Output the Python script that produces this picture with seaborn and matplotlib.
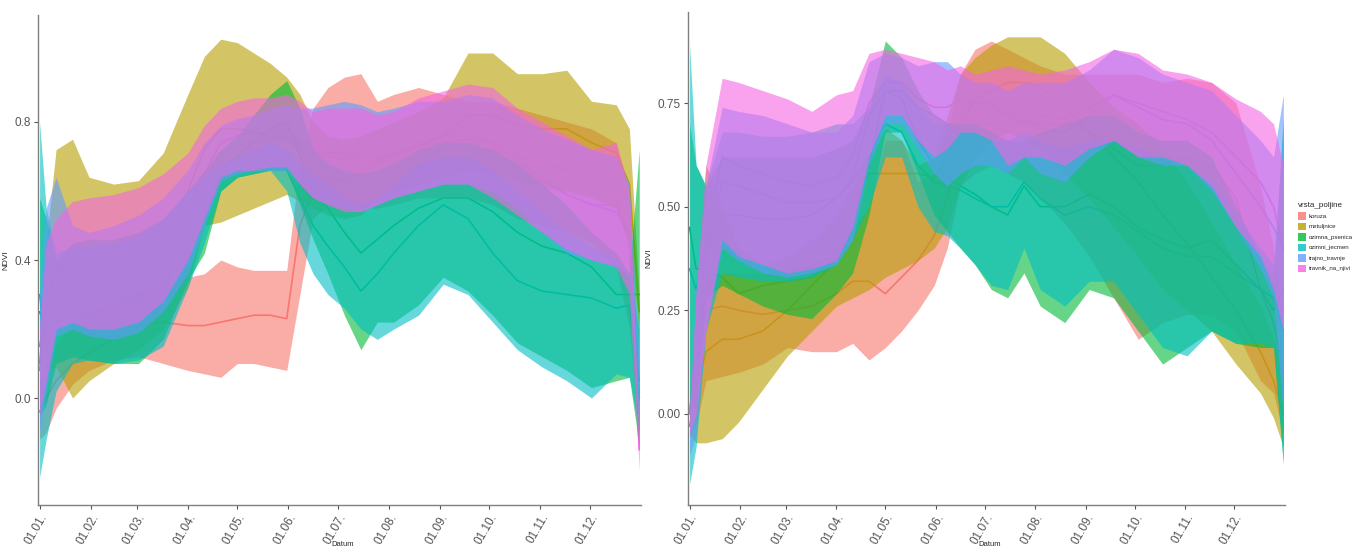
import numpy as np
import pandas as pd
import matplotlib
matplotlib.use("Agg")
import matplotlib.pyplot as plt
import seaborn as sns
from matplotlib.patches import Patch

sns.set_theme(style="white")
plt.rcParams['font.family'] = ['Liberation Sans', 'DejaVu Sans']

# day of year for every sample
days = [0, 4, 10, 20, 30, 45, 60, 75, 90, 100, 110, 120, 130, 140, 150, 158, 166,
        175, 185, 195, 205, 215, 230, 245, 260, 275, 290, 305, 320, 335, 350, 358, 364]

crops = ['koruza', 'metuljnice', 'ozimna_psenica', 'ozimni_jecmen', 'trajno_travnje', 'travnik_na_njivi']
colors = ['#F8766D', '#B79F00', '#00BA38', '#00BFC4', '#619CFF', '#F564E3']

tick_days = [0, 31, 59, 90, 120, 151, 181, 212, 243, 273, 304, 334]
tick_labels = ['01.01.', '01.02.', '01.03.', '01.04.', '01.05.', '01.06.',
               '01.07.', '01.08.', '01.09.', '01.10.', '01.11.', '01.12.']

# ---- left panel ----
koruza_lo_L = [-0.12, -0.10, -0.03, 0.04, 0.08, 0.11, 0.12, 0.10, 0.08, 0.07, 0.06, 0.10, 0.10, 0.09, 0.08, 0.30, 0.52, 0.56, 0.56, 0.55, 0.55, 0.56, 0.58, 0.58, 0.58, 0.56, 0.52, 0.50, 0.48, 0.45, 0.38, 0.20, -0.12]
koruza_mid_L = [-0.04, 0.00, 0.05, 0.10, 0.13, 0.17, 0.21, 0.22, 0.21, 0.21, 0.22, 0.23, 0.24, 0.24, 0.23, 0.50, 0.60, 0.63, 0.63, 0.58, 0.62, 0.66, 0.70, 0.72, 0.72, 0.72, 0.70, 0.68, 0.66, 0.62, 0.58, 0.45, 0.00]
koruza_hi_L = [0.05, 0.10, 0.15, 0.22, 0.25, 0.28, 0.31, 0.33, 0.35, 0.36, 0.40, 0.38, 0.37, 0.37, 0.37, 0.68, 0.84, 0.90, 0.93, 0.94, 0.86, 0.88, 0.90, 0.88, 0.86, 0.86, 0.84, 0.82, 0.80, 0.78, 0.74, 0.60, 0.00]

metul_lo_L = [0.10, 0.08, 0.09, 0.00, 0.05, 0.10, 0.14, 0.20, 0.32, 0.50, 0.51, 0.53, 0.55, 0.57, 0.59, 0.57, 0.55, 0.53, 0.52, 0.53, 0.58, 0.60, 0.62, 0.64, 0.66, 0.65, 0.63, 0.61, 0.60, 0.58, 0.55, 0.45, 0.20]
metul_mid_L = [0.15, 0.25, 0.38, 0.38, 0.37, 0.36, 0.38, 0.46, 0.60, 0.72, 0.78, 0.78, 0.77, 0.76, 0.75, 0.72, 0.67, 0.64, 0.63, 0.65, 0.68, 0.71, 0.73, 0.76, 0.82, 0.82, 0.79, 0.78, 0.78, 0.74, 0.71, 0.62, 0.25]
metul_hi_L = [0.20, 0.45, 0.72, 0.75, 0.64, 0.62, 0.63, 0.71, 0.88, 0.99, 1.04, 1.03, 1.00, 0.97, 0.93, 0.88, 0.80, 0.76, 0.75, 0.76, 0.78, 0.80, 0.83, 0.87, 1.00, 1.00, 0.94, 0.94, 0.95, 0.86, 0.85, 0.78, 0.30]

psen_lo_L = [-0.05, -0.02, 0.10, 0.12, 0.11, 0.10, 0.10, 0.17, 0.34, 0.42, 0.60, 0.64, 0.65, 0.66, 0.66, 0.56, 0.46, 0.36, 0.24, 0.14, 0.22, 0.22, 0.27, 0.35, 0.31, 0.24, 0.16, 0.12, 0.08, 0.03, 0.05, 0.06, -0.14]
psen_mid_L = [0.25, 0.20, 0.22, 0.24, 0.24, 0.25, 0.27, 0.32, 0.45, 0.52, 0.66, 0.70, 0.74, 0.78, 0.80, 0.70, 0.60, 0.55, 0.48, 0.42, 0.46, 0.50, 0.55, 0.58, 0.58, 0.54, 0.48, 0.44, 0.42, 0.38, 0.30, 0.30, 0.30]
psen_hi_L = [0.58, 0.52, 0.40, 0.45, 0.46, 0.46, 0.48, 0.52, 0.60, 0.66, 0.72, 0.76, 0.82, 0.88, 0.92, 0.84, 0.72, 0.68, 0.66, 0.65, 0.66, 0.68, 0.72, 0.74, 0.74, 0.72, 0.68, 0.62, 0.56, 0.48, 0.42, 0.36, 0.72]

jecm_lo_L = [-0.23, -0.12, 0.02, 0.10, 0.11, 0.10, 0.11, 0.15, 0.32, 0.45, 0.60, 0.64, 0.65, 0.66, 0.60, 0.45, 0.36, 0.30, 0.26, 0.20, 0.17, 0.20, 0.24, 0.33, 0.30, 0.22, 0.14, 0.09, 0.05, 0.00, 0.07, 0.06, -0.10]
jecm_mid_L = [0.30, 0.15, 0.22, 0.26, 0.26, 0.26, 0.28, 0.33, 0.45, 0.52, 0.64, 0.67, 0.68, 0.70, 0.66, 0.58, 0.50, 0.44, 0.38, 0.31, 0.36, 0.42, 0.50, 0.56, 0.52, 0.42, 0.34, 0.31, 0.30, 0.29, 0.26, 0.27, 0.05]
jecm_hi_L = [0.80, 0.55, 0.42, 0.44, 0.44, 0.45, 0.47, 0.52, 0.60, 0.64, 0.68, 0.70, 0.72, 0.74, 0.72, 0.68, 0.65, 0.62, 0.58, 0.56, 0.58, 0.62, 0.68, 0.70, 0.70, 0.66, 0.60, 0.54, 0.48, 0.44, 0.40, 0.36, 0.20]

trajno_lo_L = [-0.10, 0.02, 0.18, 0.20, 0.18, 0.17, 0.19, 0.25, 0.36, 0.50, 0.63, 0.65, 0.66, 0.66, 0.66, 0.62, 0.58, 0.56, 0.55, 0.54, 0.56, 0.58, 0.60, 0.62, 0.62, 0.60, 0.55, 0.48, 0.42, 0.40, 0.38, 0.35, -0.10]
trajno_mid_L = [0.10, 0.30, 0.38, 0.34, 0.32, 0.32, 0.35, 0.41, 0.51, 0.62, 0.71, 0.73, 0.74, 0.75, 0.76, 0.73, 0.71, 0.71, 0.71, 0.70, 0.70, 0.71, 0.73, 0.74, 0.75, 0.74, 0.69, 0.63, 0.59, 0.56, 0.54, 0.48, 0.00]
trajno_hi_L = [0.30, 0.55, 0.64, 0.50, 0.48, 0.50, 0.53, 0.58, 0.66, 0.74, 0.79, 0.81, 0.82, 0.84, 0.85, 0.84, 0.84, 0.85, 0.86, 0.85, 0.83, 0.84, 0.86, 0.86, 0.88, 0.87, 0.82, 0.78, 0.75, 0.72, 0.70, 0.62, 0.10]

travnik_lo_L = [-0.05, 0.05, 0.20, 0.22, 0.20, 0.20, 0.22, 0.28, 0.40, 0.52, 0.64, 0.66, 0.66, 0.67, 0.67, 0.62, 0.58, 0.56, 0.54, 0.54, 0.56, 0.58, 0.60, 0.62, 0.62, 0.58, 0.53, 0.48, 0.43, 0.40, 0.38, 0.30, -0.21]
travnik_mid_L = [0.08, 0.25, 0.38, 0.40, 0.39, 0.40, 0.42, 0.46, 0.55, 0.65, 0.74, 0.76, 0.77, 0.77, 0.78, 0.74, 0.71, 0.70, 0.69, 0.69, 0.69, 0.70, 0.74, 0.76, 0.77, 0.74, 0.69, 0.64, 0.59, 0.56, 0.56, 0.45, -0.15]
travnik_hi_L = [0.20, 0.45, 0.52, 0.57, 0.58, 0.59, 0.61, 0.65, 0.71, 0.79, 0.84, 0.86, 0.87, 0.87, 0.88, 0.86, 0.83, 0.84, 0.84, 0.84, 0.82, 0.83, 0.87, 0.89, 0.91, 0.90, 0.84, 0.80, 0.76, 0.72, 0.74, 0.60, -0.10]

# ---- right panel ----
koruza_lo_R = [-0.05, -0.03, 0.08, 0.09, 0.10, 0.12, 0.16, 0.15, 0.15, 0.17, 0.13, 0.16, 0.20, 0.25, 0.31, 0.40, 0.55, 0.58, 0.60, 0.58, 0.56, 0.52, 0.46, 0.38, 0.28, 0.18, 0.22, 0.24, 0.24, 0.20, 0.08, 0.05, -0.05]
koruza_mid_R = [0.00, 0.10, 0.25, 0.26, 0.25, 0.24, 0.25, 0.26, 0.29, 0.32, 0.32, 0.29, 0.33, 0.37, 0.43, 0.52, 0.65, 0.72, 0.74, 0.72, 0.70, 0.70, 0.70, 0.68, 0.64, 0.60, 0.60, 0.62, 0.60, 0.52, 0.30, 0.22, 0.10]
koruza_hi_R = [0.05, 0.20, 0.32, 0.34, 0.34, 0.34, 0.35, 0.36, 0.40, 0.45, 0.50, 0.66, 0.66, 0.56, 0.58, 0.68, 0.82, 0.88, 0.90, 0.88, 0.86, 0.84, 0.82, 0.82, 0.82, 0.82, 0.80, 0.81, 0.80, 0.75, 0.55, 0.40, 0.20]

metul_lo_R = [-0.05, -0.07, -0.07, -0.06, -0.02, 0.06, 0.14, 0.20, 0.26, 0.28, 0.30, 0.33, 0.35, 0.37, 0.40, 0.45, 0.55, 0.62, 0.66, 0.68, 0.66, 0.64, 0.58, 0.52, 0.45, 0.38, 0.30, 0.25, 0.20, 0.12, 0.05, -0.01, -0.08]
metul_mid_R = [-0.03, 0.05, 0.15, 0.18, 0.18, 0.20, 0.25, 0.31, 0.37, 0.50, 0.58, 0.58, 0.58, 0.58, 0.57, 0.62, 0.70, 0.76, 0.78, 0.80, 0.80, 0.79, 0.74, 0.68, 0.62, 0.56, 0.48, 0.41, 0.33, 0.25, 0.15, 0.08, 0.00]
metul_hi_R = [0.00, 0.30, 0.60, 0.50, 0.40, 0.36, 0.38, 0.42, 0.48, 0.55, 0.62, 0.69, 0.66, 0.60, 0.62, 0.72, 0.82, 0.86, 0.89, 0.91, 0.91, 0.91, 0.87, 0.80, 0.74, 0.70, 0.64, 0.56, 0.46, 0.36, 0.26, 0.18, 0.10]

psen_lo_R = [0.05, 0.00, 0.28, 0.31, 0.29, 0.26, 0.24, 0.23, 0.29, 0.34, 0.48, 0.68, 0.68, 0.58, 0.48, 0.44, 0.40, 0.36, 0.30, 0.28, 0.34, 0.26, 0.22, 0.30, 0.28, 0.20, 0.12, 0.16, 0.20, 0.17, 0.16, 0.16, -0.12]
psen_mid_R = [0.45, 0.35, 0.35, 0.33, 0.29, 0.31, 0.32, 0.33, 0.37, 0.45, 0.60, 0.78, 0.76, 0.66, 0.60, 0.57, 0.55, 0.53, 0.50, 0.48, 0.55, 0.50, 0.50, 0.53, 0.50, 0.45, 0.42, 0.40, 0.42, 0.36, 0.30, 0.25, 0.30]
psen_hi_R = [0.70, 0.60, 0.55, 0.62, 0.62, 0.62, 0.62, 0.62, 0.64, 0.66, 0.74, 0.90, 0.86, 0.78, 0.72, 0.70, 0.70, 0.70, 0.68, 0.66, 0.66, 0.68, 0.70, 0.72, 0.72, 0.68, 0.66, 0.66, 0.62, 0.50, 0.38, 0.32, 0.72]

jecm_lo_R = [-0.17, -0.08, 0.20, 0.34, 0.33, 0.32, 0.32, 0.33, 0.36, 0.42, 0.50, 0.62, 0.62, 0.50, 0.44, 0.43, 0.40, 0.36, 0.31, 0.30, 0.40, 0.30, 0.26, 0.32, 0.32, 0.24, 0.16, 0.14, 0.20, 0.17, 0.17, 0.16, -0.12]
jecm_mid_R = [0.35, 0.30, 0.40, 0.48, 0.48, 0.47, 0.47, 0.48, 0.52, 0.56, 0.62, 0.70, 0.68, 0.60, 0.56, 0.55, 0.54, 0.52, 0.50, 0.50, 0.56, 0.52, 0.48, 0.50, 0.48, 0.44, 0.40, 0.38, 0.38, 0.34, 0.30, 0.28, 0.20]
jecm_hi_R = [0.89, 0.60, 0.55, 0.68, 0.68, 0.67, 0.67, 0.68, 0.70, 0.70, 0.74, 0.82, 0.80, 0.74, 0.70, 0.70, 0.68, 0.68, 0.66, 0.66, 0.68, 0.66, 0.64, 0.66, 0.66, 0.64, 0.62, 0.60, 0.56, 0.48, 0.40, 0.36, 0.70]

trajno_lo_R = [-0.10, -0.05, 0.20, 0.40, 0.37, 0.34, 0.33, 0.34, 0.36, 0.42, 0.60, 0.70, 0.70, 0.64, 0.58, 0.55, 0.58, 0.60, 0.60, 0.58, 0.62, 0.58, 0.56, 0.62, 0.66, 0.62, 0.60, 0.60, 0.54, 0.45, 0.35, 0.28, 0.00]
trajno_mid_R = [0.00, 0.15, 0.38, 0.56, 0.55, 0.53, 0.51, 0.51, 0.52, 0.57, 0.72, 0.78, 0.78, 0.74, 0.72, 0.70, 0.70, 0.70, 0.70, 0.68, 0.71, 0.69, 0.68, 0.72, 0.77, 0.74, 0.71, 0.70, 0.66, 0.58, 0.50, 0.45, 0.40]
trajno_hi_R = [0.00, 0.30, 0.55, 0.74, 0.73, 0.72, 0.70, 0.68, 0.68, 0.72, 0.85, 0.87, 0.86, 0.84, 0.85, 0.85, 0.82, 0.80, 0.80, 0.78, 0.80, 0.80, 0.80, 0.83, 0.88, 0.86, 0.82, 0.80, 0.78, 0.72, 0.66, 0.62, 0.77]

travnik_lo_R = [-0.05, 0.00, 0.20, 0.42, 0.38, 0.36, 0.34, 0.35, 0.37, 0.45, 0.62, 0.72, 0.72, 0.66, 0.62, 0.64, 0.68, 0.68, 0.66, 0.60, 0.62, 0.62, 0.60, 0.64, 0.66, 0.62, 0.62, 0.60, 0.55, 0.45, 0.38, 0.30, 0.20]
travnik_mid_R = [0.00, 0.15, 0.42, 0.62, 0.60, 0.58, 0.56, 0.55, 0.57, 0.62, 0.75, 0.80, 0.80, 0.76, 0.74, 0.74, 0.76, 0.75, 0.75, 0.72, 0.72, 0.72, 0.71, 0.74, 0.77, 0.75, 0.73, 0.71, 0.68, 0.62, 0.56, 0.50, 0.40]
travnik_hi_R = [0.00, 0.30, 0.60, 0.81, 0.80, 0.78, 0.76, 0.73, 0.77, 0.78, 0.87, 0.88, 0.87, 0.86, 0.85, 0.83, 0.84, 0.82, 0.83, 0.84, 0.83, 0.82, 0.83, 0.85, 0.88, 0.87, 0.83, 0.82, 0.80, 0.76, 0.73, 0.70, 0.60]

left_series = {
    'koruza': (koruza_lo_L, koruza_mid_L, koruza_hi_L),
    'metuljnice': (metul_lo_L, metul_mid_L, metul_hi_L),
    'ozimna_psenica': (psen_lo_L, psen_mid_L, psen_hi_L),
    'ozimni_jecmen': (jecm_lo_L, jecm_mid_L, jecm_hi_L),
    'trajno_travnje': (trajno_lo_L, trajno_mid_L, trajno_hi_L),
    'travnik_na_njivi': (travnik_lo_L, travnik_mid_L, travnik_hi_L),
}
right_series = {
    'koruza': (koruza_lo_R, koruza_mid_R, koruza_hi_R),
    'metuljnice': (metul_lo_R, metul_mid_R, metul_hi_R),
    'ozimna_psenica': (psen_lo_R, psen_mid_R, psen_hi_R),
    'ozimni_jecmen': (jecm_lo_R, jecm_mid_R, jecm_hi_R),
    'trajno_travnje': (trajno_lo_R, trajno_mid_R, trajno_hi_R),
    'travnik_na_njivi': (travnik_lo_R, travnik_mid_R, travnik_hi_R),
}
palette = dict(zip(crops, colors))


def to_frame(series):
    rows = []
    for crop in crops:
        lo, mid, hi = series[crop]
        for d, l, m, h in zip(days, lo, mid, hi):
            rows.append({'Datum': d, 'vrsta_poljine': crop, 'lo': l, 'NDVI': m, 'hi': h})
    return pd.DataFrame(rows)


def draw_panel(ax, df, yticks, yfmt, ylim):
    # mean lines first, ribbons laid over them (as in the original)
    sns.lineplot(data=df, x='Datum', y='NDVI', hue='vrsta_poljine', hue_order=crops,
                 palette=palette, ax=ax, legend=False, linewidth=1.2, zorder=1)
    for crop in crops:
        sub = df[df['vrsta_poljine'] == crop]
        ax.fill_between(sub['Datum'], sub['lo'], sub['hi'], color=palette[crop],
                        alpha=0.6, linewidth=0, zorder=2)
    ax.set_xlim(-1, 365)
    ax.set_ylim(*ylim)
    ax.set_xticks(tick_days)
    ax.set_xticklabels(tick_labels, rotation=60, ha='right', va='top',
                       rotation_mode='anchor', fontsize=8.5, color='#555555')
    ax.set_yticks(yticks)
    ax.set_yticklabels([yfmt.format(v) for v in yticks], fontsize=8.5, color='#555555')
    ax.tick_params(axis='both', length=3, width=0.8, color='#555555', pad=2,
                   bottom=True, left=True)
    for side in ['top', 'right']:
        ax.spines[side].set_visible(False)
    for side in ['left', 'bottom']:
        ax.spines[side].set_color('#7f7f7f')
        ax.spines[side].set_linewidth(1.0)
    ax.set_xlabel('Datum', fontsize=5.5)
    ax.xaxis.set_label_coords(0.505, -0.074)
    ax.set_ylabel('NDVI', fontsize=6, labelpad=4)
    ax.grid(False)


fig = plt.figure(figsize=(13.55, 5.46), dpi=100)
ax1 = fig.add_axes([0.028, 0.0751, 0.445, 0.8974])
ax2 = fig.add_axes([0.5077, 0.0751, 0.4406, 0.903])

draw_panel(ax1, to_frame(left_series), [0.0, 0.4, 0.8], '{:.1f}', (-0.31, 1.11))
draw_panel(ax2, to_frame(right_series), [0.0, 0.25, 0.5, 0.75], '{:.2f}', (-0.22, 0.97))

handles = [Patch(facecolor=c, alpha=0.8, edgecolor='none') for c in colors]
fig.legend(handles, crops, title='vrsta_poljine', loc='upper left',
           bbox_to_anchor=(0.954, 0.64), frameon=False, fontsize=4.4,
           title_fontsize=5.8, handlelength=1.2, handleheight=1.5,
           handletextpad=0.5, labelspacing=0.5, alignment='left')

fig.savefig('out.png', dpi=100, facecolor='white')
